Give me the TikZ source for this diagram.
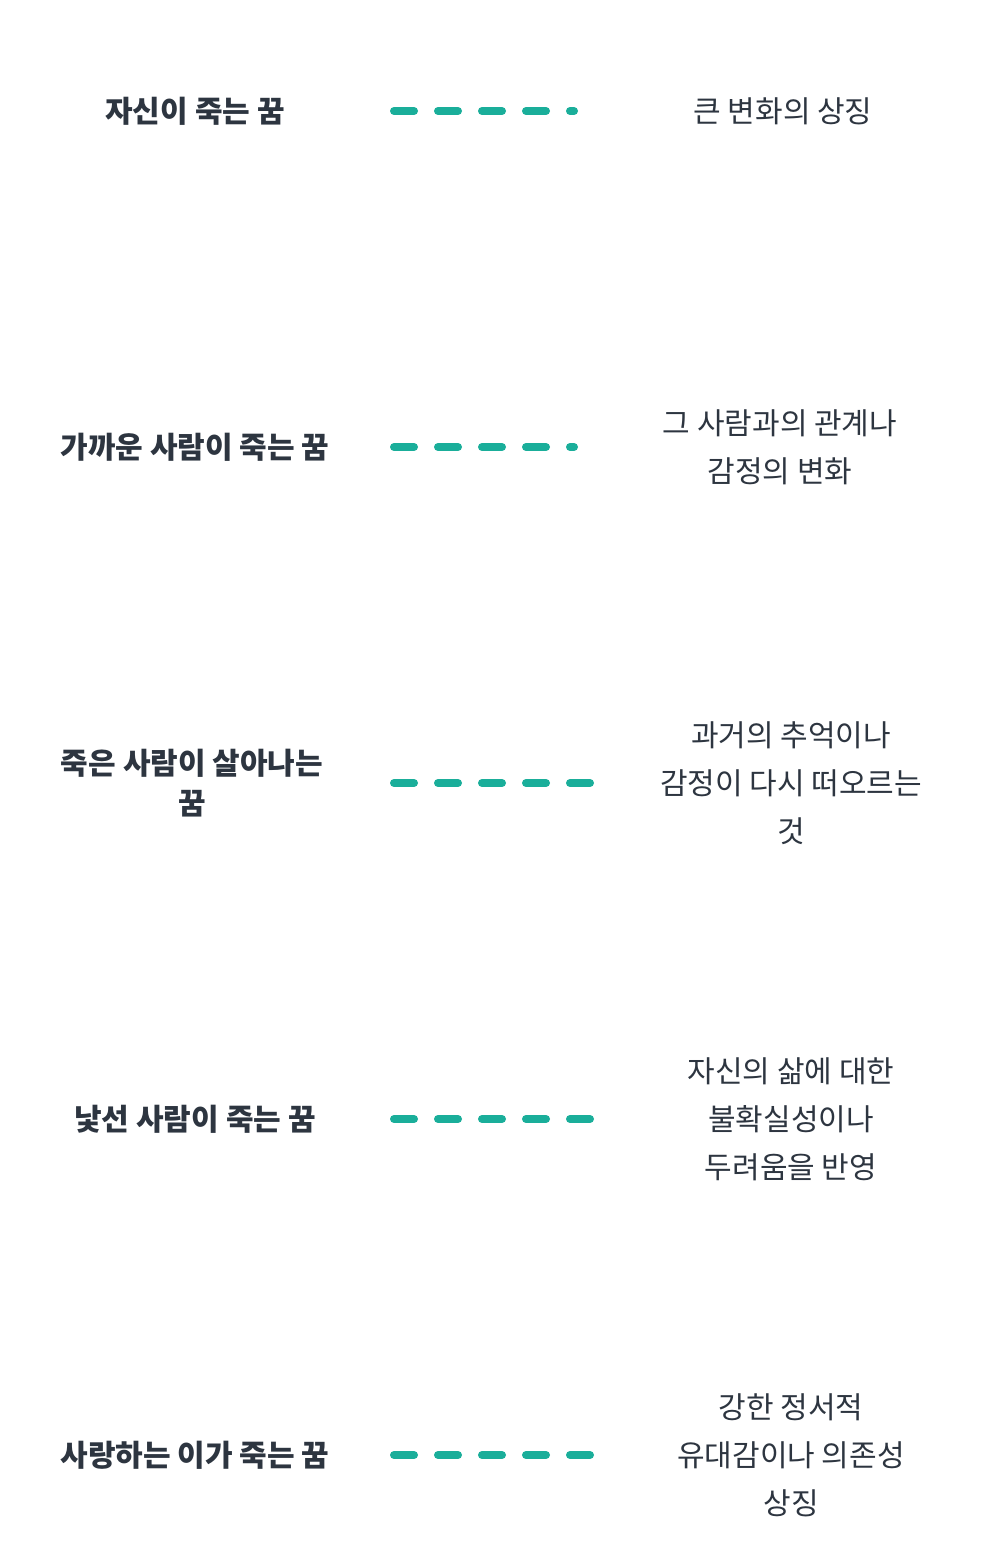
\documentclass[tikz,border=0pt]{standalone}
\usepackage{fontspec}
\setmainfont{Noto Sans CJK KR}
\definecolor{teal}{HTML}{1AAE9A}
\definecolor{ink}{HTML}{2D3540}
\begin{document}
\begin{tikzpicture}[x=1pt,y=-1pt,
  lft/.style={font=\fontsize{30}{40}\selectfont\bfseries,text=ink,align=center},
  rgt/.style={font=\fontsize{30}{48}\selectfont,text=ink,align=center},
  link/.style={teal,line width=8pt,line cap=round,dash pattern=on 20pt off 24pt}]
\useasboundingbox (0,0) rectangle (992,1568);
\node[lft] (l1) at (195,111) {자신이 죽는 꿈};
\node[lft] (l2) at (195,447) {가까운 사람이 죽는 꿈};
\node[lft] (l3) at (192,783) {죽은 사람이 살아나는\\꿈};
\node[lft] (l4) at (195,1119) {낯선 사람이 죽는 꿈};
\node[lft] (l5) at (195,1455) {사랑하는 이가 죽는 꿈};
\node[rgt] (r1) at (783,111) {큰 변화의 상징};
\node[rgt] (r2) at (780,447) {그 사람과의 관계나\\감정의 변화};
\node[rgt] (r3) at (791,783) {과거의 추억이나\\감정이 다시 떠오르는\\것};
\node[rgt] (r4) at (791,1119) {자신의 삶에 대한\\불확실성이나\\두려움을 반영};
\node[rgt] (r5) at (791,1455) {강한 정서적\\유대감이나 의존성\\상징};
\coordinate (a1) at (394,111); \coordinate (b1) at (574,111);
\coordinate (a2) at (394,447); \coordinate (b2) at (574,447);
\coordinate (a3) at (394,783); \coordinate (b3) at (591,783);
\coordinate (a4) at (394,1119); \coordinate (b4) at (591,1119);
\coordinate (a5) at (394,1455); \coordinate (b5) at (591,1455);
\foreach \i in {1,...,5} \draw[link] (a\i) -- (b\i);
\end{tikzpicture}
\end{document}
